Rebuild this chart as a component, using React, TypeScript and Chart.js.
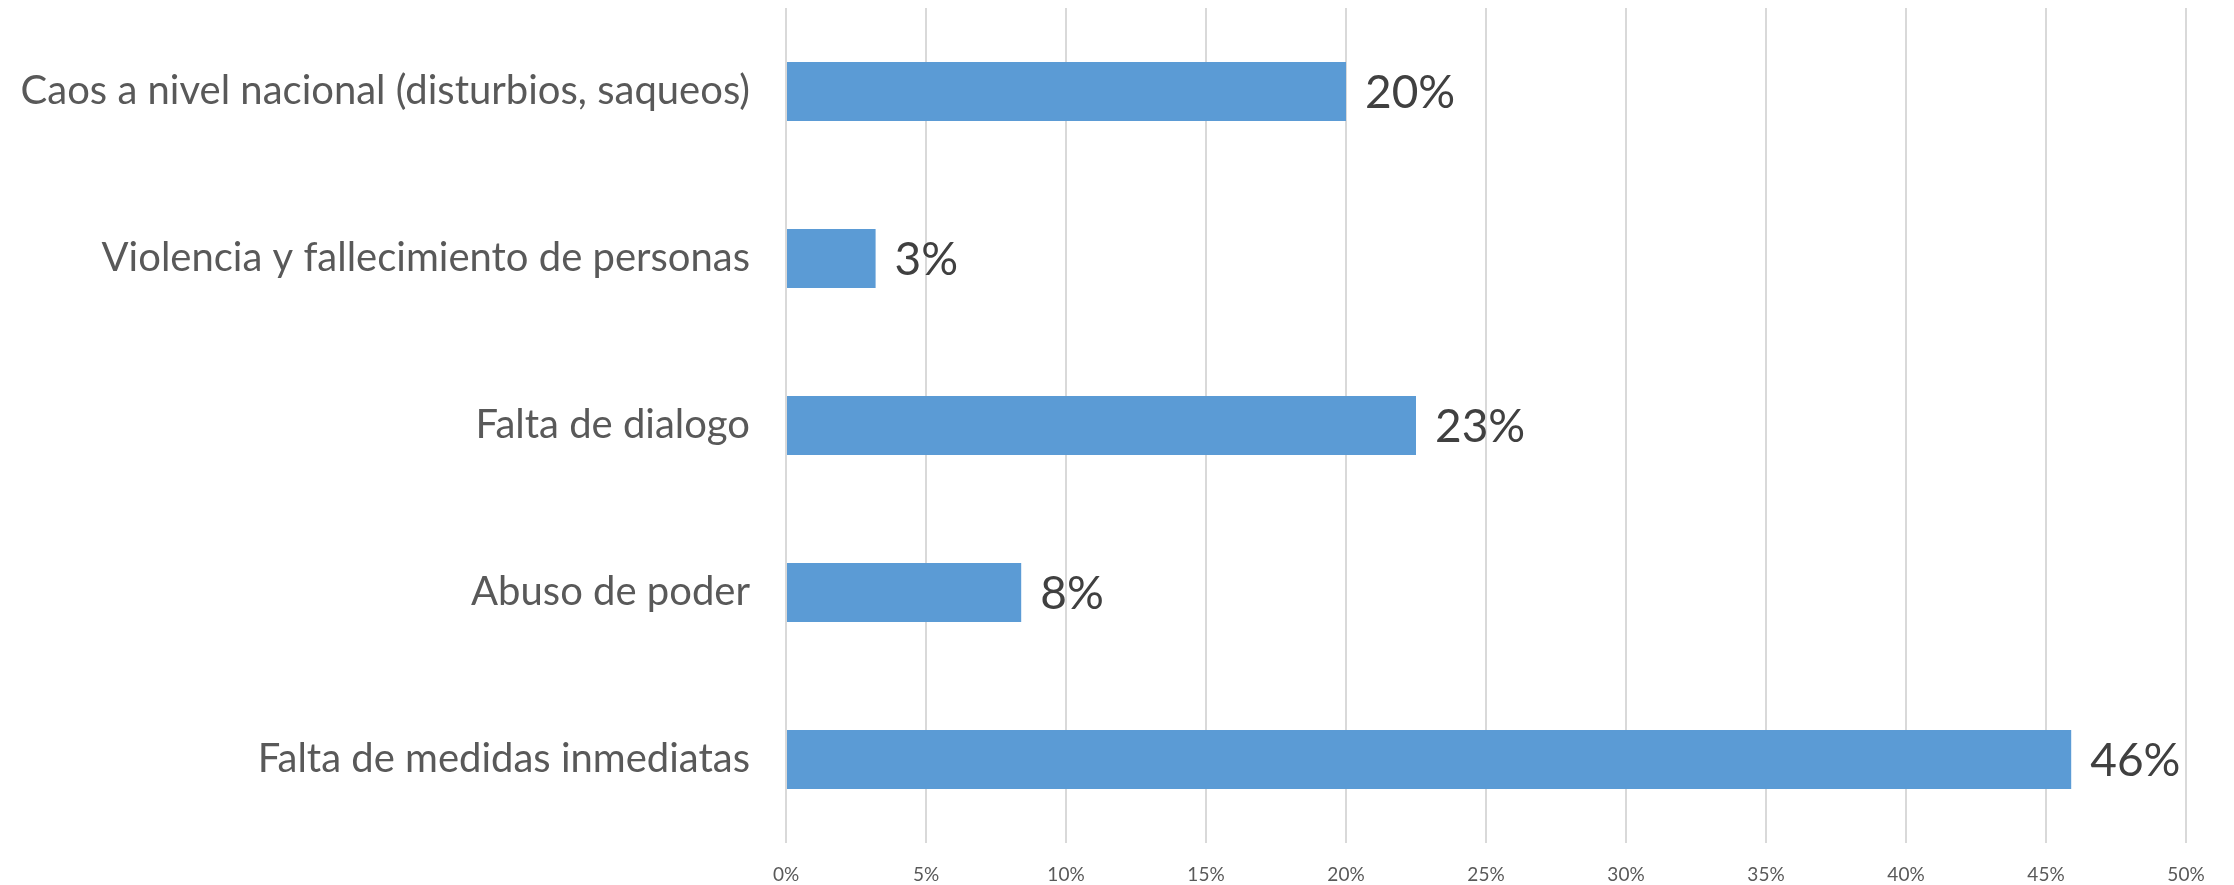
import React, { useEffect, useRef } from "react";
import { Chart, registerables } from "chart.js";

Chart.register(...registerables);

const categories = [
  "Caos a nivel nacional (disturbios, saqueos)",
  "Violencia y fallecimiento de personas",
  "Falta de dialogo",
  "Abuso de poder",
  "Falta de medidas inmediatas",
];
const values = [20.0, 3.2, 22.5, 8.4, 45.9];
const valueLabels = ["20%", "3%", "23%", "8%", "46%"];
const xTicks = [0, 5, 10, 15, 20, 25, 30, 35, 40, 45, 50];

const FONT = "Lato, 'Open Sans', sans-serif";

const dataLabelPlugin = {
  id: "dataLabels",
  afterDatasetsDraw(chart: any) {
    const ctx = chart.ctx;
    const meta = chart.getDatasetMeta(0);
    ctx.save();
    ctx.font = `46px ${FONT}`;
    ctx.fillStyle = "#404040";
    ctx.textAlign = "left";
    ctx.textBaseline = "middle";
    meta.data.forEach((bar: any, i: number) => {
      ctx.fillText(valueLabels[i], bar.x + 19, bar.y + 2);
    });
    ctx.restore();
  },
};

export default function App() {
  const ref = useRef<HTMLCanvasElement>(null);
  useEffect(() => {
    if (!ref.current) return;
    const chart = new Chart(ref.current, {
      type: "bar",
      data: {
        labels: categories,
        datasets: [
          {
            data: values,
            backgroundColor: "#5b9bd5",
            borderWidth: 0,
            categoryPercentage: 1,
            barPercentage: 0.353,
          },
        ],
      },
      options: {
        indexAxis: "y",
        animation: false,
        responsive: false,
        maintainAspectRatio: false,
        layout: { padding: { top: 8, right: 48, left: 0, bottom: 0 } },
        plugins: {
          legend: { display: false },
          tooltip: { enabled: false },
        },
        scales: {
          x: {
            min: 0,
            max: 50,
            afterBuildTicks: (scale: any) => {
              scale.ticks = xTicks.map((v) => ({ value: v }));
            },
            afterFit: (scale: any) => {
              scale.height = 42;
              scale.paddingLeft = 0;
              scale.paddingRight = 0;
            },
            grid: { color: "#d9d9d9", lineWidth: 2, drawTicks: false },
            border: { display: false },
            ticks: {
              padding: 20,
              color: "#595959",
              font: { family: FONT, size: 19 },
              callback: (v: any) => `${v}%`,
            },
          },
          y: {
            afterFit: (scale: any) => {
              scale.width = 786;
              scale.paddingTop = 0;
              scale.paddingBottom = 0;
            },
            grid: { display: false, drawTicks: false },
            border: { display: false },
            ticks: {
              padding: 36,
              color: "#595959",
              font: { family: FONT, size: 40 },
            },
          },
        },
      },
      plugins: [dataLabelPlugin],
    } as any);
    return () => chart.destroy();
  }, []);
  return (
    <div style={{ position: "absolute", left: 0, top: 0, width: 2234, height: 885, background: "#fff" }}>
      <canvas ref={ref} width={2234} height={885} style={{ width: 2234, height: 885 }} />
    </div>
  );
}
